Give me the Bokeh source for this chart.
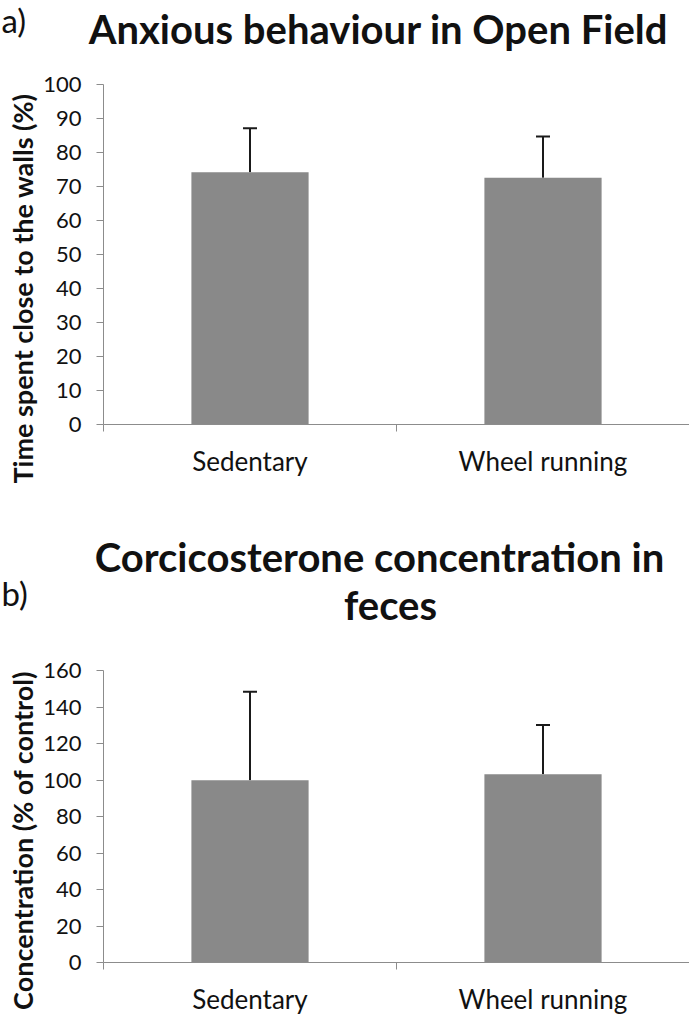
import math
from bokeh.plotting import figure
from bokeh.models import (ColumnDataSource, Range1d, FixedTicker, Label, Whisker, TeeHead)
from bokeh.layouts import column, row
from bokeh.embed import file_html
from bokeh.resources import INLINE

categories = ["Sedentary", "Wheel running"]

# Panel a: Anxious behaviour in Open Field
open_field_mean = [74.2, 72.6]
open_field_err = [12.9, 12.1]
open_field_ticks = [0, 10, 20, 30, 40, 50, 60, 70, 80, 90, 100]

# Panel b: Corticosterone concentration in feces
cort_mean = [99.8, 103.2]
cort_err = [48.6, 27.0]
cort_ticks = [0, 20, 40, 60, 80, 100, 120, 140, 160]

FONT = "Lato"
BAR = "#898989"
AXIS = "#8c8c8c"
TXT = "#111111"
PAGE_W = 690
SIDE_W = 38
TITLE_FS = 40
LETTER_FS = 33


def blank(width, height):
    """Text-only canvas; data units equal pixels from its top-left corner."""
    f = figure(width=width, height=height, x_range=Range1d(0, width),
               y_range=Range1d(height, 0), output_backend="svg",
               toolbar_location=None, x_axis_location=None, y_axis_location=None,
               min_border=0)
    f.outline_line_color = None
    f.grid.visible = False
    return f


def header(height, letter, letter_y, lines, line_xs, line_ys):
    h = blank(PAGE_W, height)
    h.add_layout(Label(x=1, y=letter_y, text=letter,
                       text_align="left", text_baseline="alphabetic",
                       text_font=FONT, text_font_size=f"{LETTER_FS}px",
                       text_color=TXT))
    for line, lx, ly in zip(lines, line_xs, line_ys):
        h.add_layout(Label(x=lx, y=ly, text=line, text_align="center",
                           text_baseline="alphabetic", text_font=FONT,
                           text_font_style="bold", text_font_size=f"{TITLE_FS}px",
                           text_color=TXT))
    return h


def side(height, text, y_center):
    s = blank(SIDE_W, height)
    s.add_layout(Label(x=22, y=y_center, text=text, angle=math.pi / 2,
                       text_align="center", text_baseline="middle",
                       text_font=FONT, text_font_style="bold",
                       text_font_size="27px", text_color=TXT))
    return s


def chart(means, errs, ticks, frame_h, border_top, border_bottom):
    xs = [i + 0.5 for i in range(len(categories))]
    src = ColumnDataSource(dict(
        x=xs, top=means, upper=[m + e for m, e in zip(means, errs)]))
    p = figure(frame_width=586, frame_height=frame_h,
               x_range=Range1d(0, len(categories)),
               y_range=Range1d(ticks[0], ticks[-1]),
               output_backend="svg", toolbar_location=None,
               min_border_left=103 - SIDE_W, min_border_right=0,
               min_border_top=border_top, min_border_bottom=border_bottom)
    p.outline_line_color = None
    p.xgrid.grid_line_color = None
    p.ygrid.grid_line_color = None

    p.vbar(x="x", top="top", bottom=0, width=0.4, source=src,
           fill_color=BAR, line_color=None)
    p.add_layout(Whisker(base="x", lower="top", upper="upper", source=src,
                         dimension="height", line_color="#1a1a1a", line_width=2,
                         lower_head=None,
                         upper_head=TeeHead(size=14, line_color="#1a1a1a",
                                            line_width=2)))

    ya = p.yaxis[0]
    ya.ticker = FixedTicker(ticks=ticks)
    ya.axis_line_color = AXIS
    ya.major_tick_line_color = AXIS
    ya.major_tick_out = 7
    ya.major_tick_in = 0
    ya.minor_tick_line_color = None
    ya.major_label_text_font = FONT
    ya.major_label_text_font_size = "22px"
    ya.major_label_text_color = TXT
    ya.major_label_standoff = 15

    xa = p.xaxis[0]
    xa.ticker = FixedTicker(ticks=xs, minor_ticks=list(range(len(categories) + 1)))
    xa.major_label_overrides = {x: c for x, c in zip(xs, categories)}
    xa.axis_line_color = AXIS
    xa.major_tick_line_color = None
    xa.minor_tick_line_color = AXIS
    xa.minor_tick_out = 7
    xa.minor_tick_in = 0
    xa.major_label_text_font = FONT
    xa.major_label_text_font_size = "26px"
    xa.major_label_text_color = TXT
    xa.major_label_standoff = 13
    return p


# Panel a: page rows 0-70 header, 70-520 chart (frame 84-424)
head_a = header(70, "a)", 19, ["Anxious behaviour in Open Field"], [378], [28])
chart_a = chart(open_field_mean, open_field_err, open_field_ticks,
                frame_h=340, border_top=14, border_bottom=96)
side_a = side(450, "Time spent close to the walls (%)", 218)

# Panel b: page rows 520-656 header, 656-1020 chart (frame 670-962)
head_b = header(136, "b)", 72, ["Corcicosterone concentration in", "feces"],
                [379, 390], [36, 84])
chart_b = chart(cort_mean, cort_err, cort_ticks,
                frame_h=292, border_top=14, border_bottom=58)
side_b = side(364, "Concentration (% of control)", 184)

# nested containers keep Bokeh from aligning the text canvases to the chart frames
layout = column(head_a, row(column(side_a), column(chart_a)),
                head_b, row(column(side_b), column(chart_b)))
open("out.html", "w").write(file_html(layout, INLINE))
